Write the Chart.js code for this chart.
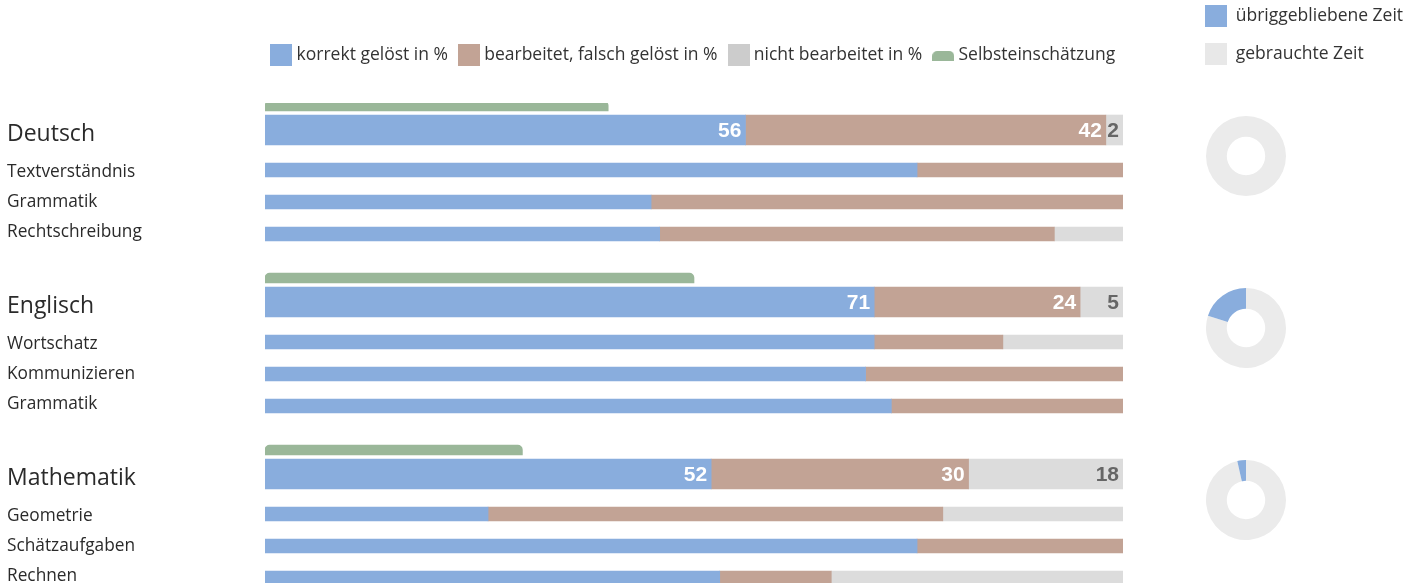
<!DOCTYPE html>
<html lang="de">

<head>
  <meta charset="UTF-8" />
  <title>Ergebnisse nach Fach</title>
  <script src="https://cdn.jsdelivr.net/npm/chart.js"></script>
  <style>
    body { margin: 0; background: #fff; width: 1423px; height: 585px; overflow: hidden; position: relative; }
    canvas { position: absolute; }
  </style>
</head>

<body>
  <canvas id="results" width="1390" height="585" style="left:0;top:0"></canvas>
  <canvas id="time0" width="234" height="220" style="left:1189px;top:-11px"></canvas>
  <canvas id="time1" width="80" height="80" style="left:1206px;top:288px"></canvas>
  <canvas id="time2" width="80" height="80" style="left:1206px;top:460px"></canvas>

  <script>
    const subjects = ["Deutsch", "Englisch", "Mathematik"];
    const topics = [
      ["Textverständnis", "Grammatik", "Rechtschreibung"],
      ["Wortschatz", "Kommunizieren", "Grammatik"],
      ["Geometrie", "Schätzaufgaben", "Rechnen"]
    ];

    // subject totals, in %
    const correct = [56, 71, 52];
    const wrong = [42, 24, 30];
    const skipped = [2, 5, 18];
    const selfRating = [40, 50, 30];

    // per topic, in %
    const topicCorrect = [[76, 45, 46], [71, 70, 73], [26, 76, 53]];
    const topicWrong = [[24, 55, 46], [15, 30, 27], [53, 24, 13]];
    const topicSkipped = [[0, 0, 8], [14, 0, 0], [21, 0, 34]];

    // time left over, in %
    const timeLabels = ["gebrauchte Zeit", "übriggebliebene Zeit"];
    const timeLeft = [0, 20, 3.5];

    const BLUE = "#89addd", BROWN = "#c2a395", GREY = "#dcdcdc", GREEN = "#9ab799";
    const USED = "#ebebeb";

    Chart.defaults.font.family = '"Open Sans", "Noto Sans", sans-serif';
    Chart.defaults.color = "#222";

    // the y axis is cut into thin 2px slots so bars and names can sit at uneven distances
    const GROUP = 86, ROWS = 240;
    const ROW_SELF = 1, ROW_TOTAL = 13, ROW_TOPICS = [33, 49, 65];
    const NAME_ROWS = [32, 47, 62];

    const rowLabels = new Array(ROWS).fill("");
    subjects.forEach((s, g) => {
      rowLabels[g * GROUP + ROW_TOTAL] = s;
      topics[g].forEach((t, k) => rowLabels[g * GROUP + NAME_ROWS[k]] = t);
    });

    function atRow(row, values) {
      const d = new Array(ROWS).fill(null);
      values.forEach((v, g) => d[g * GROUP + row] = v);
      return d;
    }

    function topicRows(values) {
      const d = new Array(ROWS).fill(null);
      values.forEach((list, g) => list.forEach((v, k) => d[g * GROUP + ROW_TOPICS[k]] = v));
      return d;
    }

    // legend icon drawn into a small canvas, used as point style
    function icon(color, rounded) {
      const c = document.createElement("canvas");
      c.width = 22;
      c.height = 24;
      const g = c.getContext("2d");
      g.fillStyle = color;
      if (rounded) {
        g.beginPath();
        g.roundRect(0, 8, 22, 10, [5, 5, 0, 0]);
        g.fill();
      } else {
        g.fillRect(0, 1, 22, 22);
      }
      return c;
    }

    // lets the legend box take a fixed height
    const legendBox = {
      id: "legendBox",
      beforeInit(chart, args, opts) {
        const fit = chart.legend.fit;
        chart.legend.fit = function () {
          fit.call(this);
          this.height = opts.height;
        };
      }
    };

    const valueLabels = {
      id: "valueLabels",
      afterDatasetsDraw(chart) {
        const ctx = chart.ctx;
        chart.data.datasets.forEach((ds, i) => {
          if (!ds.labelColor) return;
          chart.getDatasetMeta(i).data.forEach((bar, j) => {
            const v = ds.data[j];
            if (v == null || v <= 0) return;
            ctx.save();
            ctx.font = 'bold 21px "Liberation Sans", Arial, sans-serif';
            ctx.fillStyle = ds.labelColor;
            ctx.textAlign = "right";
            ctx.textBaseline = "middle";
            ctx.fillText(v, bar.x - 4, bar.y + 1);
            ctx.restore();
          });
        });
      }
    };

    // invisible axis that only takes up room on the right
    function spacer(width) {
      return {
        type: "linear",
        axis: "y",
        position: "right",
        display: true,
        grid: { display: false },
        border: { display: false },
        ticks: { display: false },
        afterFit: s => { s.width = width; }
      };
    }

    const datasets = [
      {
        label: "Selbsteinschätzung",
        data: atRow(ROW_SELF, selfRating),
        backgroundColor: GREEN,
        barThickness: 10,
        borderSkipped: false,
        borderRadius: { topLeft: 5, topRight: 5, bottomLeft: 0, bottomRight: 0 }
      },
      { label: "korrekt gelöst in %", data: atRow(ROW_TOTAL, correct), backgroundColor: BLUE, barThickness: 30, labelColor: "#fff" },
      { label: "bearbeitet, falsch gelöst in %", data: atRow(ROW_TOTAL, wrong), backgroundColor: BROWN, barThickness: 30, labelColor: "#fff" },
      { label: "nicht bearbeitet in %", data: atRow(ROW_TOTAL, skipped), backgroundColor: GREY, barThickness: 30, labelColor: "#666" },
      { label: "korrekt", data: topicRows(topicCorrect), backgroundColor: BLUE, barThickness: 14 },
      { label: "falsch", data: topicRows(topicWrong), backgroundColor: BROWN, barThickness: 14 },
      { label: "nicht bearbeitet", data: topicRows(topicSkipped), backgroundColor: GREY, barThickness: 14 }
    ];

    const legendIcons = [[1, icon(BLUE)], [2, icon(BROWN)], [3, icon("#cccccc")], [0, icon(GREEN, true)]];

    new Chart(document.getElementById("results"), {
      type: "bar",
      data: { labels: rowLabels, datasets },
      options: {
        indexAxis: "y",
        responsive: false,
        animation: false,
        events: [],
        layout: { padding: { top: 31.75, left: 7, right: 7, bottom: 2 } },
        scales: {
          x: { type: "linear", min: 0, max: 100, stacked: true, display: false },
          y: {
            type: "category",
            stacked: true,
            offset: true,
            grid: { display: false },
            border: { display: false },
            ticks: {
              autoSkip: false,
              crossAlign: "far",
              padding: 0,
              labelOffset: 4,
              color: "#2a2a2a",
              font: c => {
                if (!rowLabels[c.index]) return { size: 1 };
                return { size: c.index % GROUP === ROW_TOTAL ? 23 : 17.3 };
              }
            },
            afterFit: s => { s.width = 258; }
          },
          // keeps the legend centred over the bars
          spacer: spacer(260)
        },
        plugins: {
          tooltip: { enabled: false },
          legend: {
            position: "top",
            align: "center",
            onClick: null,
            labels: {
              usePointStyle: true,
              pointStyleWidth: 13,
              padding: 14.5,
              font: { size: 17.5 },
              generateLabels: chart => legendIcons.map(([i, img]) => ({
                text: chart.data.datasets[i].label,
                pointStyle: img,
                fillStyle: "transparent",
                strokeStyle: "transparent",
                lineWidth: 0,
                fontColor: "#333",
                hidden: false,
                datasetIndex: i
              }))
            }
          },
          legendBox: { height: 71.25 }
        }
      },
      plugins: [legendBox, valueLabels]
    });

    function drawTime(id, i, withLegend) {
      new Chart(document.getElementById(id), {
        type: "doughnut",
        data: {
          labels: timeLabels,
          datasets: [{
            data: [100 - timeLeft[i], timeLeft[i]],
            backgroundColor: [USED, BLUE],
            borderWidth: 0,
            hoverOffset: 0
          }]
        },
        options: {
          responsive: false,
          animation: false,
          events: [],
          cutout: "48%",
          layout: { padding: withLegend ? { bottom: 13 } : 0 },
          scales: withLegend ? { spacer: spacer(120) } : {},
          plugins: {
            tooltip: { enabled: false },
            legend: withLegend ? {
              position: "top",
              align: "start",
              onClick: null,
              labels: {
                boxWidth: 22,
                boxHeight: 22,
                padding: 16,
                font: { size: 17.5 },
                generateLabels: () => [
                  { text: timeLabels[1], fillStyle: BLUE, strokeStyle: BLUE, lineWidth: 0, fontColor: "#333", hidden: false, index: 1 },
                  { text: timeLabels[0], fillStyle: "#e8e8e8", strokeStyle: "#e8e8e8", lineWidth: 0, fontColor: "#333", hidden: false, index: 0 }
                ]
              }
            } : { display: false },
            legendBox: { height: 127 }
          }
        },
        plugins: withLegend ? [legendBox] : []
      });
    }

    drawTime("time0", 0, true);
    drawTime("time1", 1, false);
    drawTime("time2", 2, false);
  </script>
</body>

</html>
